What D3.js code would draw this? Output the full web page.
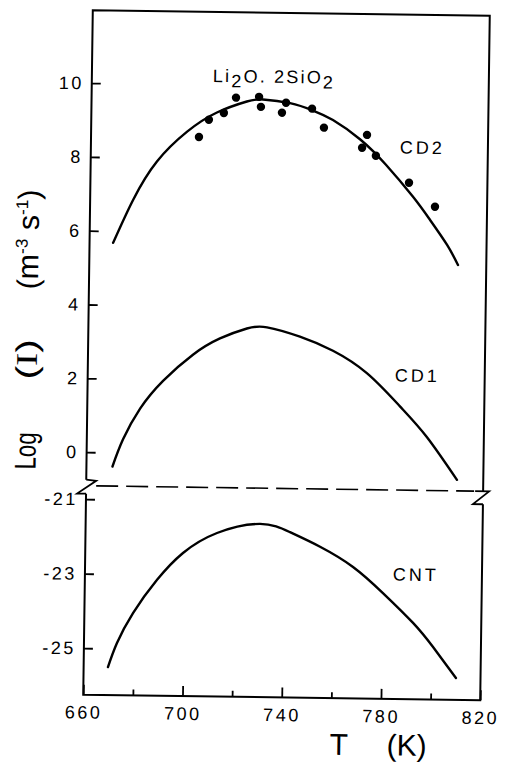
<!DOCTYPE html>
<html>
<head>
<meta charset="utf-8">
<script src="https://cdn.jsdelivr.net/npm/d3@7"></script>
<style>
  body { margin: 0; background: #fff; }
  svg text { font-family: "Liberation Sans", Arial, sans-serif; fill: #000; }
</style>
</head>
<body>
<svg id="chart" width="508" height="762"></svg>
<script>
// tick labels
var tempTicks = [660, 700, 740, 780, 820];
var tempMinor = [680, 720, 760, 800];
var upperTicks = [0, 2, 4, 6, 8, 10];
var lowerTicks = [-21, -23, -25];

// CD2 fit curve
var cd2T = [669.5, 677.3, 686.7, 698.7, 710.6, 722.6, 729.1, 740.0, 749.3, 757.4, 768.4, 779.0, 790.1, 797.1, 804.1, 808.6];
var cd2V = [5.68, 6.85, 7.90, 8.72, 9.25, 9.56, 9.62, 9.53, 9.34, 9.09, 8.58, 7.90, 7.04, 6.42, 5.75, 5.21];

// measured points
var dotT = [703.5, 707.4, 713.4, 718.2, 727.5, 728.3, 736.8, 738.4, 748.9, 753.8, 769.3, 771.2, 774.9, 788.4, 799.0];
var dotV = [8.58, 9.05, 9.24, 9.66, 9.69, 9.42, 9.27, 9.54, 9.39, 8.88, 8.35, 8.70, 8.14, 7.42, 6.78];

// CD1 curve
var cd1T = [670.5, 674.6, 681.3, 690.4, 702.3, 713.1, 723.9, 732.0, 745.3, 758.7, 772.6, 786.0, 797.0, 809.4];
var cd1V = [-0.38, 0.36, 1.20, 1.96, 2.68, 3.13, 3.41, 3.45, 3.21, 2.84, 2.24, 1.36, 0.54, -0.61];

// CNT curve
var cntT = [669.8, 673.3, 679.6, 689.1, 699.4, 713.0, 730.3, 742.4, 754.6, 768.0, 780.2, 792.5, 800.7, 810.1];
var cntV = [-25.50, -24.85, -24.04, -23.14, -22.41, -21.86, -21.60, -21.81, -22.19, -22.72, -23.41, -24.20, -24.84, -25.66];

var svg = d3.select("svg#chart");

// the scanned figure sits slightly tilted
var g = svg.append("g").attr("transform", "rotate(0.8,286,355)");

var x = d3.scaleLinear().domain([660, 820]).range([88, 485]);
var yU = d3.scaleLinear().domain([-0.91, 12]).range([488.5, 12]);
var yL = d3.scaleLinear().domain([-26.25, -20.64]).range([697.5, 488.5]);

var xl = x.range()[0], xr = x.range()[1];
var yt = yU.range()[1] + 1, yb = yL.range()[0], brk = yU.range()[0];

function zip(a, b) { return a.map(function(d, i) { return [d, b[i]]; }); }

// frame
var frame = g.append("g").attr("fill", "none").attr("stroke", "#000").attr("stroke-width", 2);
frame.append("path").attr("d", "M" + xl + "," + (brk - 6) + "V" + yt + "H" + xr + "V" + brk);
frame.append("path").attr("d", "M" + xl + "," + (brk + 8) + "V" + yb + "H" + xr + "V" + (brk + 13));

// axis break marks
frame.append("path").attr("stroke-width", 1.8)
  .attr("d", "M" + xl + "," + (brk - 6) + "L" + (xl + 10) + "," + (brk - 5) + "L" + (xl - 9) + "," + (brk + 8) + "L" + xl + "," + (brk + 8));
frame.append("path").attr("stroke-width", 1.8)
  .attr("d", "M" + (xr - 8) + "," + brk + "L" + (xr + 6) + "," + brk + "L" + (xr - 10) + "," + (brk + 13) + "L" + xr + "," + (brk + 13));
g.append("line")
  .attr("x1", xl + 10).attr("x2", xr - 9)
  .attr("y1", brk).attr("y2", brk)
  .attr("stroke", "#000").attr("stroke-width", 1.6)
  .attr("stroke-dasharray", "22,8");

// x axis
g.append("g")
  .attr("transform", "translate(0," + yb + ")")
  .call(d3.axisBottom(x).tickValues(tempTicks).tickSize(-10).tickPadding(11).tickFormat(d3.format("d")));
g.append("g")
  .attr("transform", "translate(0," + yb + ")")
  .call(d3.axisBottom(x).tickValues(tempMinor).tickSize(-6).tickFormat(""));

// y axes, upper and lower part
g.append("g")
  .attr("transform", "translate(" + xl + ",0)")
  .call(d3.axisLeft(yU).tickValues(upperTicks).tickSize(-9).tickPadding(8).tickFormat(function(d) { return String(d); }));
g.append("g")
  .attr("transform", "translate(" + xl + ",0)")
  .call(d3.axisLeft(yL).tickValues(lowerTicks).tickSize(-9).tickPadding(8).tickFormat(function(d) { return String(d); }));

g.selectAll(".domain").remove();
g.selectAll(".tick line").attr("stroke", "#000").attr("stroke-width", 1.8);
g.selectAll(".tick text")
  .attr("font-family", "Liberation Sans, Arial, sans-serif")
  .attr("font-size", 18)
  .attr("letter-spacing", 2.5);

// curves
var line = d3.line()
  .x(function(d) { return x(d[0]); })
  .curve(d3.curveNatural);

function drawCurve(data, yScale) {
  g.append("path")
    .datum(data)
    .attr("fill", "none")
    .attr("stroke", "#000")
    .attr("stroke-width", 2.4)
    .attr("stroke-linecap", "round")
    .attr("d", line.y(function(d) { return yScale(d[1]); }));
}
drawCurve(zip(cd2T, cd2V), yU);
drawCurve(zip(cd1T, cd1V), yU);
drawCurve(zip(cntT, cntV), yL);

g.selectAll("circle.pt")
  .data(zip(dotT, dotV))
  .enter().append("circle")
  .attr("class", "pt")
  .attr("cx", function(d) { return x(d[0]); })
  .attr("cy", function(d) { return yU(d[1]); })
  .attr("r", 4.2)
  .attr("fill", "#000");

// curve labels
function label(txt, px, py) {
  g.append("text").attr("x", px).attr("y", py)
    .attr("font-size", 18).attr("letter-spacing", 3).text(txt);
}
label("CD2", 397, 152);
label("CD1", 395, 380);
label("CNT", 396, 579);

var comp = g.append("text").attr("x", 209).attr("y", 83)
  .attr("font-size", 18).attr("letter-spacing", 2.2)
  .attr("xml:space", "preserve");
comp.append("tspan").text("Li");
comp.append("tspan").attr("dy", 5).text("2");
comp.append("tspan").attr("dy", -5).text("O. 2SiO");
comp.append("tspan").attr("dy", 5).text("2");

// axis titles
g.append("text").attr("x", 335).attr("y", 754).attr("font-size", 30).text("T");
g.append("text").attr("x", 392).attr("y", 754).attr("font-size", 30).text("(K)");

function yTitle(py, len) {
  return g.append("text")
    .attr("transform", "translate(37," + py + ") rotate(-90)")
    .attr("font-size", 30)
    .attr("textLength", len)
    .attr("lengthAdjust", "spacingAndGlyphs");
}
yTitle(473, 37).text("Log");
var ii = yTitle(383, 40);
ii.append("tspan").text("(");
ii.append("tspan").attr("font-family", "Liberation Serif, serif").text("I");
ii.append("tspan").text(")");
var unit = yTitle(293, 100);
unit.append("tspan").text("(m");
unit.append("tspan").attr("font-size", 17).attr("dy", -11).text("-3");
unit.append("tspan").attr("dy", 11).text(" s");
unit.append("tspan").attr("font-size", 17).attr("dy", -11).text("-1");
unit.append("tspan").attr("dy", 11).text(")");
</script>
</body>
</html>
